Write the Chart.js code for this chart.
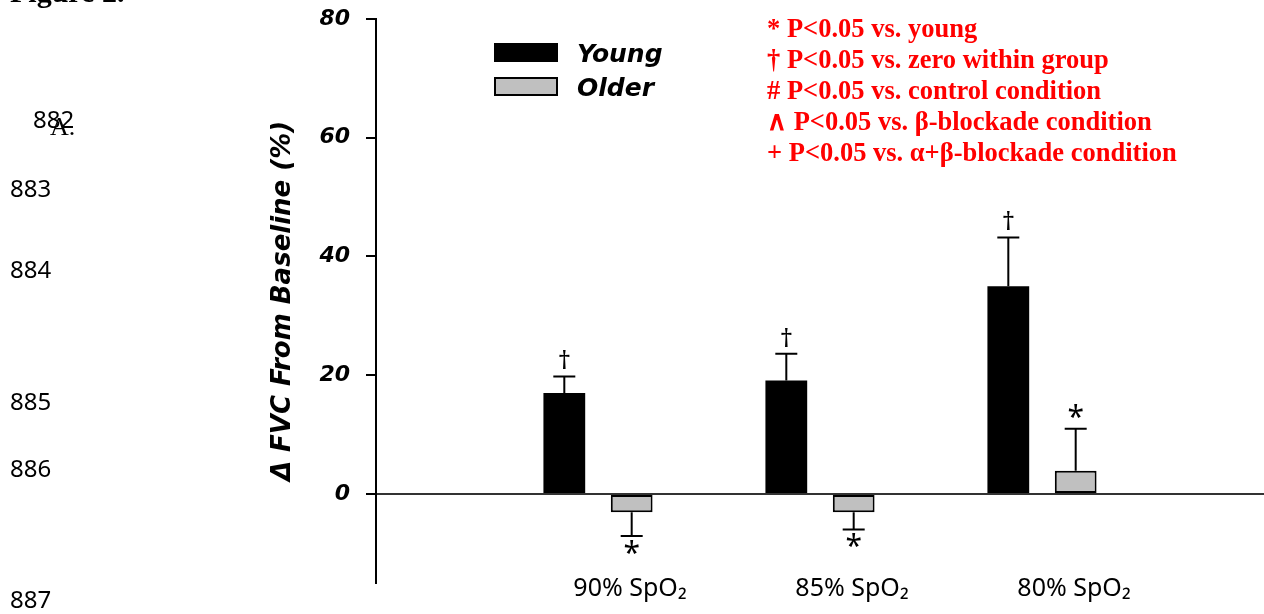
<!DOCTYPE html>
<html>
<head>
<meta charset="utf-8">
<script src="https://cdn.jsdelivr.net/npm/chart.js@4.4.1/dist/chart.umd.min.js"></script>
<style>
  body { margin: 0; background: #fff; }
  #wrap { position: relative; width: 1264px; height: 614px; overflow: hidden; }
  .ln { position: absolute; font-family: "Noto Sans", sans-serif; font-size: 24px; line-height: 24px; color: #000; }
  .serif { font-family: "Liberation Serif", serif; }
</style>
</head>
<body>
<div id="wrap">
  <canvas id="myChart" width="1264" height="614"></canvas>
  <div class="ln serif" style="left:10px; top:-23px; font-size:30px; line-height:30px; font-weight:bold;">Figure 2.</div>
  <div class="ln" style="left:33px; top:107px;">882</div>
  <div class="ln serif" style="left:50px; top:114px; font-size:26px; line-height:26px;">A.</div>
  <div class="ln" style="left:10px; top:176px;">883</div>
  <div class="ln" style="left:10px; top:257px;">884</div>
  <div class="ln" style="left:10px; top:389px;">885</div>
  <div class="ln" style="left:10px; top:456px;">886</div>
  <div class="ln" style="left:10px; top:587px;">887</div>
</div>
<script>
// ---- DATOS ----
const grupos = ['90% SpO₂', '85% SpO₂', '80% SpO₂']
const youngVals = [17.0, 19.1, 35.0]
const youngErr = [2.8, 4.5, 8.2]
const olderVals = [-3.1, -3.1, 3.9]
const olderErr = [4.0, 2.9, 7.1]
const youngMarks = ['†', '†', '†']
const olderMarks = ['*', '*', '*']
const yTicks = [0, 20, 40, 60, 80]
const notas = [
  '* P<0.05 vs. young',
  '† P<0.05 vs. zero within group',
  '# P<0.05 vs. control condition',
  '∧ P<0.05 vs. β-blockade condition',
  '+ P<0.05 vs. α+β-blockade condition'
]

// categorias vacias a los lados para dejar el espacio del original
const labels = ['', ...grupos, '']
const pad = arr => [null, ...arr, null]
const errores = [youngErr, olderErr]
const marcas = [youngMarks, olderMarks]

const fontAxis = { family: 'DejaVu Sans', weight: 'bold', style: 'italic' }

// ---- BARRAS DE ERROR Y MARCAS ----
const errorBars = {
  id: 'errorBars',
  afterDatasetsDraw(chart) {
    const ctx = chart.ctx
    const y = chart.scales.y
    ctx.save()
    chart.data.datasets.forEach((ds, i) => {
      const meta = chart.getDatasetMeta(i)
      meta.data.forEach((bar, j) => {
        const v = ds.data[j]
        if (v == null) return
        const e = errores[i][j - 1]
        const fin = v >= 0 ? v + e : v - e
        const y0 = y.getPixelForValue(v)
        const y1 = y.getPixelForValue(fin)
        ctx.strokeStyle = '#000'
        ctx.lineWidth = 2
        ctx.beginPath()
        ctx.moveTo(bar.x, y0)
        ctx.lineTo(bar.x, y1)
        ctx.moveTo(bar.x - 11, y1)
        ctx.lineTo(bar.x + 11, y1)
        ctx.stroke()
        const m = marcas[i][j - 1]
        ctx.fillStyle = '#000'
        ctx.textAlign = 'center'
        if (m == '*') {
          ctx.font = '30px "Noto Sans"'
          ctx.textBaseline = 'middle'
          ctx.fillText(m, bar.x, v >= 0 ? y1 - 10 : y1 + 18)
        } else {
          ctx.font = '26px "Noto Sans"'
          ctx.textBaseline = 'alphabetic'
          ctx.fillText(m, bar.x, y1 - 7)
        }
      })
    })
    ctx.restore()
  }
}

// ---- LEYENDA Y NOTAS ----
const leyenda = {
  id: 'leyenda',
  afterDraw(chart) {
    const ctx = chart.ctx
    ctx.save()
    chart.data.datasets.forEach((ds, i) => {
      const top = 43 + i * 34
      ctx.fillStyle = ds.backgroundColor
      ctx.fillRect(494, top, 64, 19)
      ctx.strokeStyle = '#000'
      ctx.lineWidth = 2
      ctx.strokeRect(495, top + 1, 62, 17)
      ctx.fillStyle = '#000'
      ctx.font = 'italic bold 25px "DejaVu Sans"'
      ctx.textBaseline = 'alphabetic'
      ctx.textAlign = 'left'
      ctx.fillText(ds.label, 577, top + 19)
    })
    ctx.fillStyle = '#ff0000'
    ctx.font = 'bold 26.5px "Liberation Serif"'
    notas.forEach((t, i) => {
      ctx.fillText(t, 767, 37 + i * 31)
    })
    ctx.restore()
  }
}

const config = {
  type: 'bar',
  data: {
    labels: labels,
    datasets: [
      {
        label: 'Young',
        data: pad(youngVals),
        backgroundColor: '#000000',
        borderColor: '#000000',
        borderWidth: 0
      },
      {
        label: 'Older',
        data: pad(olderVals),
        backgroundColor: '#c0c0c0',
        borderColor: '#000000',
        borderWidth: 2,
        borderSkipped: false
      }
    ]
  },
  options: {
    responsive: false,
    animation: false,
    devicePixelRatio: 1,
    datasets: { bar: { categoryPercentage: 0.607, barPercentage: 0.62 } },
    layout: { padding: { left: 255, right: 0, top: 19, bottom: 0 } },
    plugins: { legend: { display: false }, tooltip: { enabled: false } },
    scales: {
      x: {
        offset: false,
        grid: { display: false },
        border: { display: false },
        ticks: {
          color: '#000',
          font: { family: 'Noto Sans', size: 25 },
          labelOffset: 32,
          padding: -17,
          maxRotation: 0,
          autoSkip: false
        },
        afterFit: s => {
          s.height = 31
          // sin recorte: las etiquetas suben un poco sobre el area del eje
          s._computeLabelArea = () => undefined
        }
      },
      y: {
        min: -15,
        max: 80,
        afterFit: s => {
          s.width = 121
          s.paddingTop = 0
          s.paddingBottom = 0
        },
        afterBuildTicks: s => { s.ticks = yTicks.map(v => ({ value: v })) },
        ticks: {
          color: '#000',
          padding: 16,
          font: { ...fontAxis, size: 22 }
        },
        grid: {
          color: c => (c.tick && c.tick.value === 0 ? '#333' : 'rgba(0,0,0,0)'),
          lineWidth: 2,
          tickColor: '#000',
          tickLength: 10
        },
        border: { color: '#000', width: 2 },
        title: {
          display: true,
          text: 'Δ FVC From Baseline (%)',
          color: '#000',
          font: { ...fontAxis, size: 26 },
          padding: { top: 13, bottom: 0 }
        }
      }
    }
  },
  plugins: [errorBars, leyenda]
}

const grafico = document.querySelector('#myChart')
new Chart(grafico, config)
</script>
</body>
</html>
